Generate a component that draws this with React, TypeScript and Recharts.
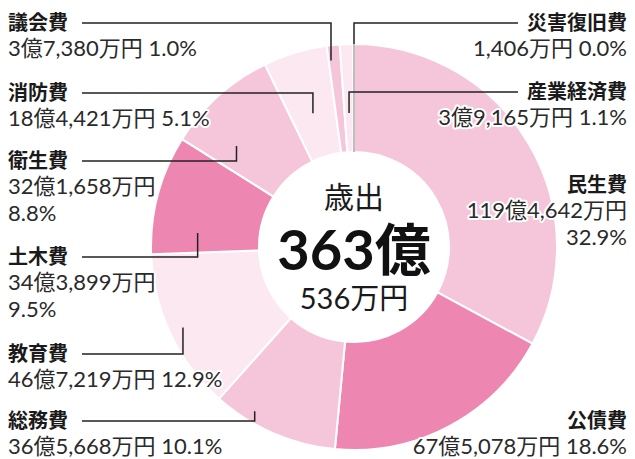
import React from 'react';
import { PieChart, Pie, Cell } from 'recharts';

// 歳出 内訳（万円）
const names = ['民生費', '公債費', '総務費', '教育費', '土木費', '衛生費', '消防費', '議会費', '産業経済費', '災害復旧費'];
const amounts = [1194642, 675078, 365668, 467219, 343899, 321658, 184421, 37380, 39165, 1406];
const amountLabels = ['119億4,642万円', '67億5,078万円', '36億5,668万円', '46億7,219万円', '34億3,899万円', '32億1,658万円', '18億4,421万円', '3億7,380万円', '3億9,165万円', '1,406万円'];
const percents = ['32.9%', '18.6%', '10.1%', '12.9%', '9.5%', '8.8%', '5.1%', '1.0%', '1.1%', '0.0%'];
const colors = ['#f5c6da', '#ed87b2', '#f5c6da', '#fce8f1', '#ed87b2', '#f5c6da', '#fce8f1', '#f5c6da', '#fce8f1', '#b0b0b0'];

const totalTitle = '歳出';
const totalMain = '363億';
const totalSub = '536万円';

const data = names.map((name, i) => ({ name, value: amounts[i] }));

const W = 635;
const H = 459;
const CX = 354;
const CY = 247;
const R_IN = 95;
const R_OUT = 203;
const FONT = '"Noto Sans CJK JP", "Noto Sans", sans-serif';
const NUM_FONT = 'Lato, "Noto Sans CJK JP", sans-serif';

// label layout: side, name row y, value rows, leader (fraction within slice, radius)
type LabelSpec = {
  idx: number;
  side: 'left' | 'right';
  y: number;
  split?: boolean;
  leader?: { frac: number; r: number };
};

const labels: LabelSpec[] = [
  { idx: 7, side: 'left', y: 21, leader: { frac: 0.19, r: 188 } },
  { idx: 6, side: 'left', y: 91, leader: { frac: 0.49, r: 140 } },
  { idx: 5, side: 'left', y: 159, split: true, leader: { frac: 0.27, r: 155 } },
  { idx: 4, side: 'left', y: 255, split: true, leader: { frac: 0.21, r: 157 } },
  { idx: 3, side: 'left', y: 352, leader: { frac: 0.5, r: 189 } },
  { idx: 2, side: 'left', y: 419, leader: { frac: 0.71, r: 192 } },
  { idx: 9, side: 'right', y: 21, leader: { frac: 1, r: R_OUT } },
  { idx: 8, side: 'right', y: 90, leader: { frac: 0.49, r: 134 } },
  { idx: 0, side: 'right', y: 183, split: true },
  { idx: 1, side: 'right', y: 419 },
];

const total = amounts.reduce((a, b) => a + b, 0);
const startDeg = amounts.map((_, i) => (amounts.slice(0, i).reduce((a, b) => a + b, 0) / total) * 360);
const sweepDeg = amounts.map((v) => (v / total) * 360);

const polar = (deg: number, r: number) => {
  const t = (deg * Math.PI) / 180;
  return { x: CX + r * Math.sin(t), y: CY - r * Math.cos(t) };
};

const halo = { stroke: '#fff', strokeWidth: 4, paintOrder: 'stroke' as const, strokeLinejoin: 'round' as const };

const Labels = () => (
  <svg width={W} height={H} style={{ position: 'absolute', left: 0, top: 0, pointerEvents: 'none' }}>
    {labels.map((l) => {
      const left = l.side === 'left';
      const tx = left ? 8 : 627;
      const anchor = left ? 'start' : 'end';
      let line = null;
      if (l.leader) {
        const deg = startDeg[l.idx] + sweepDeg[l.idx] * l.leader.frac;
        const p = polar(deg, l.leader.r);
        const ly = l.y + 2;
        const lx = left ? 82 : 518;
        if (l.idx === 9) {
          const outer = polar(deg, R_OUT);
          const inner = polar(deg, R_IN);
          line = (
            <g>
              <polyline points={`${lx},${ly} ${outer.x},${ly} ${outer.x},${outer.y}`} fill="none" stroke="#222" strokeWidth={1.5} />
              <line x1={outer.x} y1={outer.y} x2={inner.x} y2={inner.y} stroke="#a8a8a8" strokeWidth={1.5} />
            </g>
          );
        } else {
          line = <polyline points={`${lx},${ly} ${p.x},${ly} ${p.x},${p.y}`} fill="none" stroke="#222" strokeWidth={1.5} />;
        }
      }
      const rows = l.split ? [amountLabels[l.idx], percents[l.idx]] : [`${amountLabels[l.idx]} ${percents[l.idx]}`];
      return (
        <g key={l.idx}>
          {line}
          <text x={tx} y={l.y} textAnchor={anchor} dominantBaseline="central" fontFamily={FONT} fontWeight={700} fontSize={20} fill="#1a1a1a" {...halo}>
            {names[l.idx]}
          </text>
          {rows.map((row, k) => (
            <text key={k} x={tx} y={l.y + 26.5 + k * 26.5} textAnchor={anchor} dominantBaseline="central" fontFamily={NUM_FONT} fontSize={22} fill="#2a2a2a" {...halo}>
              {row}
            </text>
          ))}
        </g>
      );
    })}
    <text x={CX} y={195} textAnchor="middle" dominantBaseline="central" fontFamily={FONT} fontSize={30} fill="#1a1a1a">
      {totalTitle}
    </text>
    <text x={CX} y={248} textAnchor="middle" dominantBaseline="central" fontFamily={NUM_FONT} fontWeight={700} fontSize={56} fill="#111">
      {totalMain}
    </text>
    <text x={CX} y={297} textAnchor="middle" dominantBaseline="central" fontFamily={NUM_FONT} fontSize={29} fill="#1a1a1a">
      {totalSub}
    </text>
  </svg>
);

export default function App() {
  return (
    <div style={{ position: 'absolute', left: 0, top: 0, width: W, height: H, background: '#fff' }}>
      <PieChart width={W} height={H} margin={{ top: 0, right: 0, bottom: 0, left: 0 }}>
        <Pie
          data={data}
          dataKey="value"
          nameKey="name"
          cx={CX}
          cy={CY}
          innerRadius={R_IN}
          outerRadius={R_OUT}
          startAngle={90}
          endAngle={-270}
          stroke="#fff"
          strokeWidth={2}
          isAnimationActive={false}
          label={false}
          labelLine={false}
        >
          {data.map((d, i) => (
            <Cell key={d.name} fill={colors[i]} />
          ))}
        </Pie>
      </PieChart>
      <Labels />
    </div>
  );
}
